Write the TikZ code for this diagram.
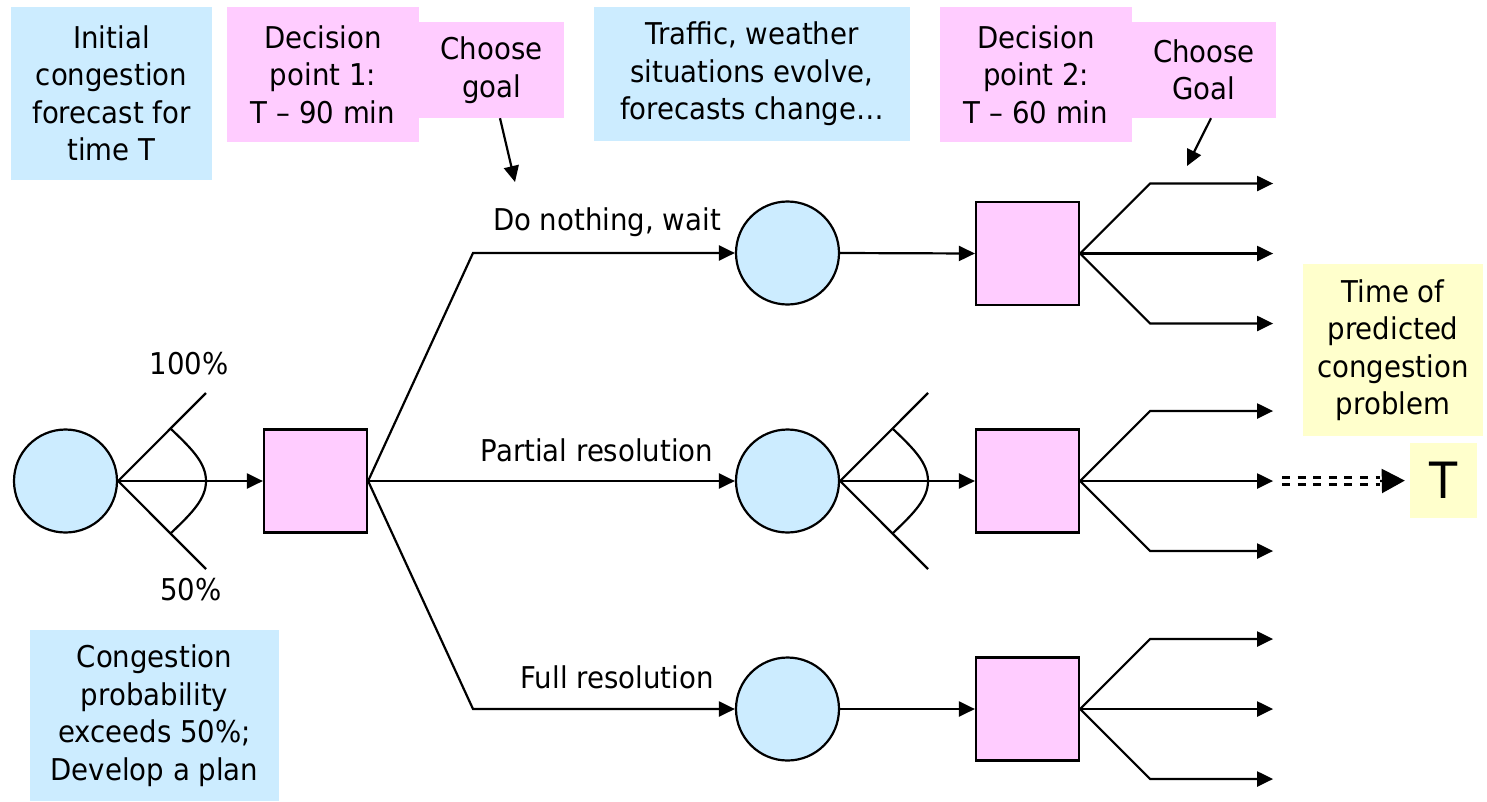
\documentclass[tikz,border=0pt]{standalone}
\usepackage{fontspec}
\setmainfont{DejaVu Sans}[FakeStretch=0.92]
\usetikzlibrary{arrows.meta}
\definecolor{paleblue}{HTML}{CCECFF}
\definecolor{palepink}{HTML}{FFCCFF}
\definecolor{paleyellow}{HTML}{FFFFCC}

\begin{document}
\begin{tikzpicture}[x=1pt,y=-1pt,
  every node/.style={font=\fontsize{30}{37.5}\selectfont, inner sep=0pt},
  chance/.style={circle, draw, line width=2.2pt, fill=paleblue, minimum size=103pt},
  decide/.style={rectangle, draw, line width=2.2pt, fill=palepink, minimum width=103pt, minimum height=103pt},
  note/.style={rectangle, align=center},
  bluenote/.style={note, fill=paleblue},
  pinknote/.style={note, fill=palepink},
  yellownote/.style={note, fill=paleyellow},
  link/.style={line width=2.2pt, line join=miter},
  arr/.style={link, -{Triangle[length=16pt,width=15pt]}},
  bigarr/.style={link, -{Triangle[length=23pt,width=24pt]}, shorten >=5pt},
  dashstroke/.style={line width=2.6pt, dash pattern=on 8pt off 7.6pt},
]
\useasboundingbox (0,0) rectangle (1487,801);

% text panels
\node[bluenote, minimum width=201pt, minimum height=173pt] (nInit) at (111.5,93.5) {Initial\\congestion\\forecast for\\time T};
\node[pinknote, minimum width=192pt, minimum height=135pt] (nDec1) at (323,74.5) {Decision\\point 1:\\T – 90 min};
\node[pinknote, minimum width=145pt, minimum height=96pt] (nCh1) at (491.5,70) {Choose\\goal};
\node[bluenote, minimum width=316pt, minimum height=134pt] (nEvolve) at (752,74) {Traffic, weather\\situations evolve,\\forecasts change…};
\node[pinknote, minimum width=192pt, minimum height=135pt] (nDec2) at (1036,74.5) {Decision\\point 2:\\T – 60 min};
\node[pinknote, minimum width=144pt, minimum height=96pt] (nCh2) at (1204,70) {Choose\\Goal};
\node[yellownote, minimum width=180pt, minimum height=172pt] (nTime) at (1393,350) {Time of\\predicted\\congestion\\problem};
\node[yellownote, minimum width=67pt, minimum height=75pt, font=\fontsize{50}{60}\selectfont] (yT) at (1443.5,480.5) {T};
\node[bluenote, minimum width=249pt, minimum height=171pt] (nPlan) at (154.5,715.5) {Congestion\\probability\\exceeds 50\%;\\Develop a plan};

% tree nodes
\node[chance] (c1) at (65.5,481) {};
\node[decide] (s1) at (315.5,481) {};
\node[chance] (cA) at (787.5,253) {};
\node[chance] (cB) at (787.5,481) {};
\node[chance] (cC) at (787.5,709) {};
\node[decide] (sA) at (1027.5,253.5) {};
\node[decide] (sB) at (1027.5,481) {};
\node[decide] (sC) at (1027.5,709) {};

% branch labels
\node (l100) at (189,364) {100\%};
\node (l50) at (191,590) {50\%};
\node (lwait) at (607,222) {Do nothing, wait};
\node (lpart) at (597,450) {Partial resolution};
\node (lfull) at (617,677) {Full resolution};

% helper points
\coordinate (f1u) at (206,393);
\coordinate (f1d) at (206,569);
\coordinate (f2u) at (928,393);
\coordinate (f2d) at (928,569);
\coordinate (jA) at (473,253);
\coordinate (jC) at (473,709);
\coordinate (g1) at (515,182);
\coordinate (g2) at (1187,166);
\coordinate (dS) at (1282,481);
\coordinate (dE) at (1380,481);

% first chance fan
\draw[link] (f1u) -- (c1.east) -- (f1d);
\draw[link] (171,429) .. controls (192,449) and (206,463) .. (206,481)
                      .. controls (206,499) and (192,513) .. (171,533);
\draw[arr] (c1.east) -- (s1.west);

% first decision: three plans
\draw[arr] (s1.east) -- (jA) -- (cA.west);
\draw[arr] (s1.east) -- (cB.west);
\draw[arr] (s1.east) -- (jC) -- (cC.west);

% evolving situation
\draw[arr] (cA.east) -- (sA.west);
\draw[link] (f2u) -- (cB.east) -- (f2d);
\draw[link] (893,429) .. controls (914,449) and (928,463) .. (928,481)
                      .. controls (928,499) and (914,513) .. (893,533);
\draw[arr] (cB.east) -- (sB.west);
\draw[arr] (cC.east) -- (sC.west);

% second decision fans
\foreach \s in {sA,sB,sC} {
  \path (\s.east) ++(70,-70) coordinate (\s u1) ++(123,0) coordinate (\s u2);
  \path (\s.east) ++(193,0) coordinate (\s m);
  \path (\s.east) ++(70,70) coordinate (\s d1) ++(123,0) coordinate (\s d2);
  \draw[arr] (\s.east) -- (\s u1) -- (\s u2);
  \draw[arr] (\s.east) -- (\s m);
  \draw[arr] (\s.east) -- (\s d1) -- (\s d2);
}

% goal pointers
\draw[arr] ([xshift=8.5pt]nCh1.south) -- (g1);
\draw[arr] ([xshift=7pt]nCh2.south) -- (g2);

% time of congestion
\draw[dashstroke] ([yshift=3.5pt]dS) -- ([yshift=3.5pt]dE);
\draw[dashstroke] ([yshift=-3.5pt]dS) -- ([yshift=-3.5pt]dE);
\draw[bigarr] (dE) -- (yT.west);
\end{tikzpicture}
\end{document}
